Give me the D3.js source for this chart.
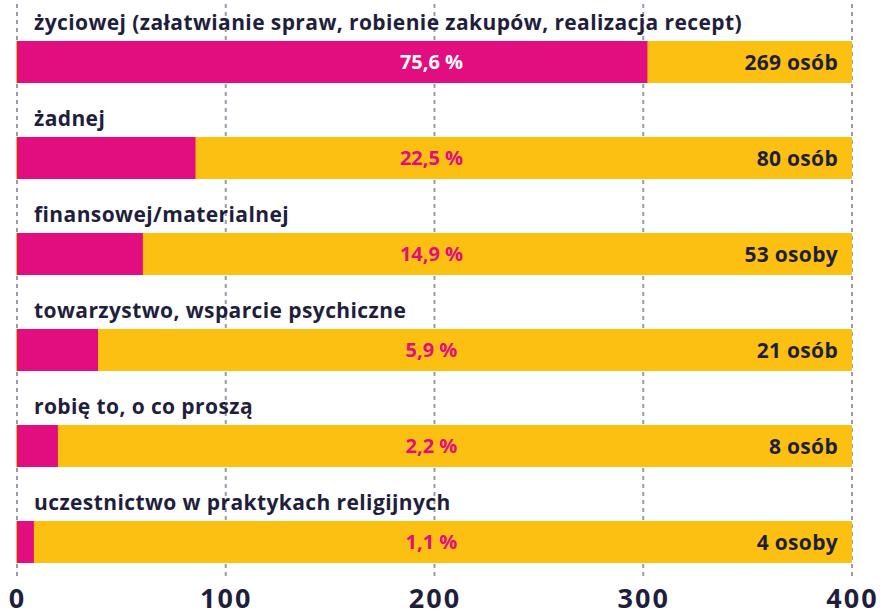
<!DOCTYPE html>
<html>
<head>
<meta charset="utf-8">
<script src="https://cdn.jsdelivr.net/npm/d3@7/dist/d3.min.js"></script>
<style>
  html, body { margin: 0; padding: 0; background: #ffffff; }
  svg { display: block; font-family: "Open Sans", "Noto Sans", sans-serif; }
</style>
</head>
<body>
<svg id="chart" width="883" height="615"></svg>
<script>
// Forms of help given (answers) with counts and shares
const categories = [
  "życiowej (załatwianie spraw, robienie zakupów, realizacja recept)",
  "żadnej",
  "finansowej/materialnej",
  "towarzystwo, wsparcie psychiczne",
  "robię to, o co proszą",
  "uczestnictwo w praktykach religijnych"
];
const barValues = [302, 85.5, 60.3, 38.8, 19.6, 8.1];
const totalValue = 400;
const percentLabels = ["75,6 %", "22,5 %", "14,9 %", "5,9 %", "2,2 %", "1,1 %"];
const countLabels = ["269 osób", "80 osób", "53 osoby", "21 osób", "8 osób", "4 osoby"];
const tickValues = [0, 100, 200, 300, 400];

const MAGENTA = "#e20d7e";
const YELLOW = "#fcc013";
const INK = "#1f1f3d";
const GRID = "#9a9aa8";

const svg = d3.select("#chart");

const x = d3.scaleLinear().domain([0, 400]).range([17, 852]);
const y = d3.scaleBand()
  .domain(d3.range(categories.length))
  .range([41, 563])
  .paddingInner(0.5625)
  .paddingOuter(0);

// Dashed vertical grid lines behind the bars
svg.append("g")
  .selectAll("line")
  .data(tickValues)
  .join("line")
  .attr("x1", d => x(d)).attr("x2", d => x(d))
  .attr("y1", 4).attr("y2", 580)
  .attr("stroke", GRID)
  .attr("stroke-width", 2)
  .attr("stroke-dasharray", "4,4");

const rows = svg.append("g")
  .selectAll("g")
  .data(categories.map((c, i) => ({ c, i })))
  .join("g");

// Full-width background bar
rows.append("rect")
  .attr("x", x(0) - 1)
  .attr("y", d => y(d.i))
  .attr("width", x(totalValue) - x(0) + 1)
  .attr("height", y.bandwidth())
  .attr("fill", YELLOW);

// Value bar
rows.append("rect")
  .attr("x", x(0))
  .attr("y", d => y(d.i))
  .attr("width", d => x(barValues[d.i]) - x(0))
  .attr("height", y.bandwidth())
  .attr("fill", MAGENTA);

// Category label above each bar
rows.append("text")
  .attr("x", 34)
  .attr("y", d => y(d.i) - 11)
  .attr("fill", INK)
  .attr("font-size", 21)
  .attr("font-weight", 700)
  .attr("letter-spacing", 0.4)
  .text(d => d.c);

// Percentage label in the middle of the bar
rows.append("text")
  .attr("x", x(200) - 3)
  .attr("y", d => y(d.i) + y.bandwidth() / 2)
  .attr("dy", "0.36em")
  .attr("text-anchor", "middle")
  .attr("fill", d => x(barValues[d.i]) > x(200) + 40 ? "#ffffff" : MAGENTA)
  .attr("font-size", 20)
  .attr("font-weight", 700)
  .text(d => percentLabels[d.i]);

// Count label at the right end
rows.append("text")
  .attr("x", 838)
  .attr("y", d => y(d.i) + y.bandwidth() / 2)
  .attr("dy", "0.36em")
  .attr("text-anchor", "end")
  .attr("fill", INK)
  .attr("font-size", 21)
  .attr("font-weight", 700)
  .attr("letter-spacing", 0.3)
  .text(d => countLabels[d.i]);

// Bottom axis with tick labels only
const axis = svg.append("g")
  .attr("transform", "translate(0,580)")
  .call(d3.axisBottom(x).tickValues(tickValues).tickSize(0).tickPadding(0).tickFormat(d3.format("d")));
axis.select(".domain").remove();
axis.selectAll("text")
  .attr("y", 28)
  .attr("dy", null)
  .attr("fill", INK)
  .attr("font-size", 27)
  .attr("font-weight", 700)
  .attr("letter-spacing", 2)
  .attr("font-family", "'Open Sans', sans-serif");
</script>
</body>
</html>
